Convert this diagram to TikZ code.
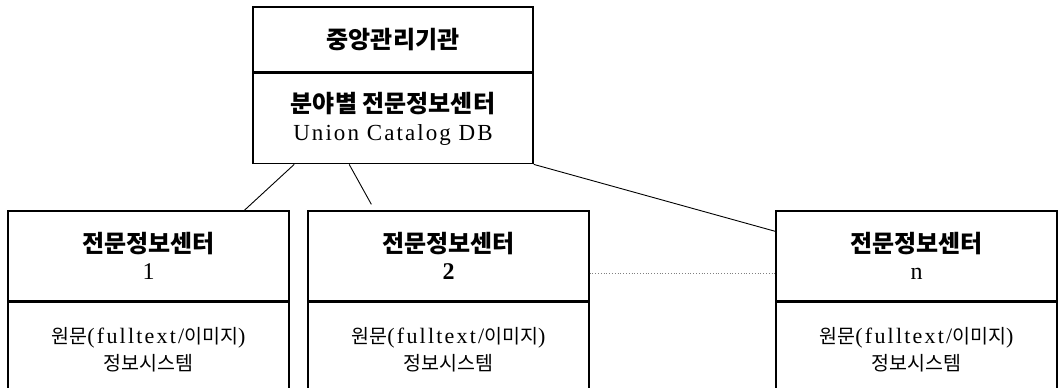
\documentclass[tikz,border=0pt]{standalone}
\usepackage{fontspec}
\setmainfont{Liberation Serif}
\newfontfamily\kr{Noto Sans CJK KR}
\newfontfamily\lat{Liberation Serif}[LetterSpace=9]
\newfontfamily\latb{Liberation Serif}[LetterSpace=10]
\newcommand\numfont{\fontsize{24}{24}\selectfont}
\begin{document}
\begin{tikzpicture}[x=1pt,y=-1pt,
  box/.style={draw,line width=1.3pt,rectangle,inner sep=0pt,align=center},
  topbox/.style={box,line width=1.6pt,minimum width=280pt},
  cbox/.style={box,minimum width=281pt},
  hd/.style={font=\fontsize{24}{29}\selectfont},
  bd/.style={font=\fontsize{19.5}{27}\selectfont},
  conn/.style={line width=0.9pt}]
\useasboundingbox (0,0) rectangle (1058,388);
\fill[white] (0,0) rectangle (1058,388);
% top box
\node[topbox,minimum height=65pt,hd] (top1) at (393,39.5) {{\kr\bfseries 중앙관리기관}};
\node[topbox,minimum height=90pt,hd,anchor=north] (top2) at (top1.south) {{\kr\bfseries 분야별 전문정보센터}\\[-1pt]{\lat\fontsize{23}{24}\selectfont Union Catalog DB}};
% center boxes
\node[cbox,minimum height=90pt,hd] (c1a) at (148.5,256) {{\kr\bfseries 전문정보센터}\\[-2pt]{\numfont 1}};
\node[cbox,minimum height=94pt,bd,anchor=north] (c1b) at (c1a.south) {{\kr 원문}{\latb\fontsize{22}{27}\selectfont(fulltext/}{\kr 이미지}{\latb\fontsize{22}{27}\selectfont)}\\{\kr 정보시스템}};
\node[cbox,minimum height=90pt,hd] (c2a) at (448.5,256) {{\kr\bfseries 전문정보센터}\\[-2pt]{\numfont\bfseries 2}};
\node[cbox,minimum height=94pt,bd,anchor=north] (c2b) at (c2a.south) {{\kr 원문}{\latb\fontsize{22}{27}\selectfont(fulltext/}{\kr 이미지}{\latb\fontsize{22}{27}\selectfont)}\\{\kr 정보시스템}};
\node[cbox,minimum height=90pt,hd] (c3a) at (916.5,256) {{\kr\bfseries 전문정보센터}\\[-2pt]{\numfont n}};
\node[cbox,minimum height=94pt,bd,anchor=north] (c3b) at (c3a.south) {{\kr 원문}{\latb\fontsize{22}{27}\selectfont(fulltext/}{\kr 이미지}{\latb\fontsize{22}{27}\selectfont)}\\{\kr 정보시스템}};
% connectors
\draw[conn] ([xshift=42pt]top2.south west) -- ([xshift=237pt]c1a.north west);
\draw[conn] ([xshift=97pt]top2.south west) -- ([xshift=64pt,yshift=6pt]c2a.north west);
\draw[conn] (top2.south east) -- ([yshift=-21pt]c3a.north west);
\draw[line width=0.8pt,gray,dotted] ([yshift=-17pt]c2a.east) -- ([yshift=-17pt]c3a.west);
\end{tikzpicture}
\end{document}
